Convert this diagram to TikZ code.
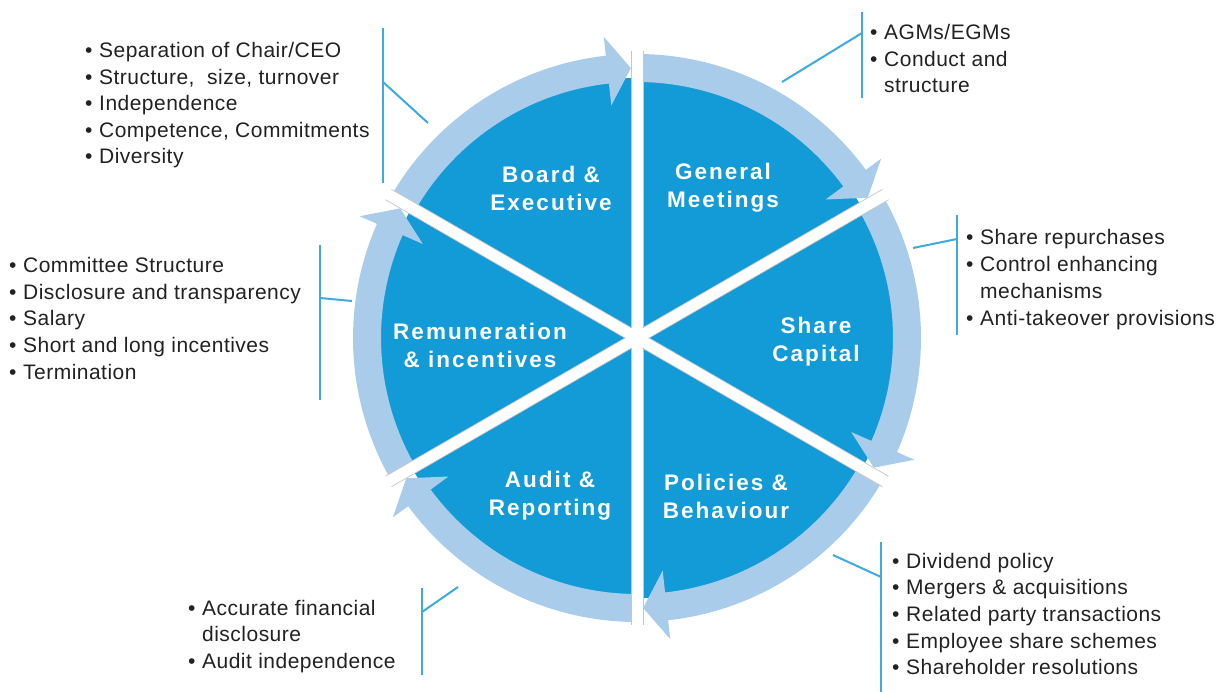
\documentclass[tikz,border=0pt]{standalone}
\usepackage{fontspec}
\setmainfont{Liberation Sans}
\newfontfamily\lblfont[LetterSpace=9]{Liberation Sans}
\newfontfamily\bulfont[LetterSpace=2.3]{Liberation Sans}
\definecolor{darkblue}{RGB}{18,155,215}
\definecolor{lightband}{RGB}{170,204,235}
\definecolor{linkblue}{RGB}{62,170,224}
\definecolor{txtgray}{RGB}{34,34,34}
\newcommand\bitem{\makebox[14pt][l]{\textbullet}}
\newcommand\bcont{\hspace*{14pt}}
\begin{document}
\begin{tikzpicture}[x=1pt,y=-1pt,
  bul/.style={anchor=base west, inner sep=0pt, text=txtgray, font=\bulfont\fontsize{21}{25}\selectfont},
  lbl/.style={align=center, text=white, inner sep=0pt, font=\lblfont\bfseries\fontsize{22.5}{28}\selectfont},
  conn/.style={draw=linkblue, line width=2pt},
  bandfill/.style={fill=lightband},
  gapedge/.style={draw=gray!45, line width=0.7pt},
]
\fill[white] (0,0) rectangle (1217,692);
\useasboundingbox (0,0) rectangle (1217,692);

\coordinate (C) at (637,338);
\begin{scope}[shift={(C)}]
  \fill[darkblue] (0pt,0pt) circle[radius=260pt];
  \foreach \s in {150,90,30,-30,-90,-150} {
    \pgfmathsetmacro\b{\s-60+6.3}
    \pgfmathsetmacro\t{\s-60+1.3}
    \fill[bandfill] (\s:284pt) arc[start angle=\s, end angle=\b, radius=284pt]
      -- (\b:303pt) -- (\t:270pt) -- (\b:234pt) -- (\b:256pt)
      arc[start angle=\b, end angle=\s, radius=256pt] -- cycle;
  }
  \foreach \a in {90,30,150} {
    \draw[white, line width=12pt] (\a:320pt) -- ({\a+180}:320pt);
  }
  \foreach \a in {90,30,-30,-90,-150,150} {
    \begin{scope}[rotate=\a]
      \draw[gapedge] (10pt,6pt) -- (287pt,6pt);
      \draw[gapedge] (10pt,-6pt) -- (287pt,-6pt);
    \end{scope}
  }
\end{scope}

% sector labels
\node[lbl] (lboard) at (551,188) {Board \&\\Executive};
\node[lbl] (lgm) at (723,188) {General\\Meetings};
\node[lbl] (lshare) at (816,342) {Share\\Capital};
\node[lbl] (lpol) at (726,496) {Policies \&\\Behaviour};
\node[lbl] (laudit) at (550,496) {Audit \&\\Reporting};
\node[lbl] (lrem) at (480,345) {Remuneration\\\& incentives};

% connectors
\coordinate (v1t) at (383,28);  \coordinate (v1b) at (383,183);
\coordinate (v1m) at (383,82);  \coordinate (v1e) at (428,123);
\draw[conn] (v1t) -- (v1b); \draw[conn] (v1m) -- (v1e);

\coordinate (v2t) at (862,12);  \coordinate (v2b) at (862,98);
\coordinate (v2m) at (862,33);  \coordinate (v2e) at (782,82);
\draw[conn] (v2t) -- (v2b); \draw[conn] (v2m) -- (v2e);

\coordinate (v3t) at (957,215); \coordinate (v3b) at (957,335);
\coordinate (v3m) at (957,239); \coordinate (v3e) at (913,248);
\draw[conn] (v3t) -- (v3b); \draw[conn] (v3m) -- (v3e);

\coordinate (v4t) at (881,542); \coordinate (v4b) at (881,692);
\coordinate (v4m) at (881,577); \coordinate (v4e) at (833,555);
\draw[conn] (v4t) -- (v4b); \draw[conn] (v4m) -- (v4e);

\coordinate (v5t) at (422,588); \coordinate (v5b) at (422,675);
\coordinate (v5m) at (422,612); \coordinate (v5e) at (458,587);
\draw[conn] (v5t) -- (v5b); \draw[conn] (v5m) -- (v5e);

\coordinate (v6t) at (320,245); \coordinate (v6b) at (320,400);
\coordinate (v6m) at (320,298); \coordinate (v6e) at (352,301);
\draw[conn] (v6t) -- (v6b); \draw[conn] (v6m) -- (v6e);

% bullet lists
\node[bul] (b1a) at (85,58) {\bitem Separation of Chair/CEO};
\node[bul] (b1b) at (85,84.5) {\bitem Structure,~ size, turnover};
\node[bul] (b1c) at (85,111) {\bitem Independence};
\node[bul] (b1d) at (85,137.5) {\bitem Competence, Commitments};
\node[bul] (b1e) at (85,164) {\bitem Diversity};

\node[bul] (b2a) at (870,40) {\bitem AGMs/EGMs};
\node[bul] (b2b) at (870,66.5) {\bitem Conduct and};
\node[bul] (b2c) at (870,93) {\bcont structure};

\node[bul] (b3a) at (966,245) {\bitem Share repurchases};
\node[bul] (b3b) at (966,271.7) {\bitem Control enhancing};
\node[bul] (b3c) at (966,298.4) {\bcont mechanisms};
\node[bul] (b3d) at (966,325) {\bitem Anti-takeover provisions};

\node[bul] (b4a) at (892,568) {\bitem Dividend policy};
\node[bul] (b4b) at (892,594.7) {\bitem Mergers \& acquisitions};
\node[bul] (b4c) at (892,621.4) {\bitem Related party transactions};
\node[bul] (b4d) at (892,648) {\bitem Employee share schemes};
\node[bul] (b4e) at (892,674.8) {\bitem Shareholder resolutions};

\node[bul] (b5a) at (188,615) {\bitem Accurate financial};
\node[bul] (b5b) at (188,641.7) {\bcont disclosure};
\node[bul] (b5c) at (188,668) {\bitem Audit independence};

\node[bul] (b6a) at (9,273) {\bitem Committee Structure};
\node[bul] (b6b) at (9,299.5) {\bitem Disclosure and transparency};
\node[bul] (b6c) at (9,326) {\bitem Salary};
\node[bul] (b6d) at (9,352.5) {\bitem Short and long incentives};
\node[bul] (b6e) at (9,379) {\bitem Termination};
\end{tikzpicture}
\end{document}
